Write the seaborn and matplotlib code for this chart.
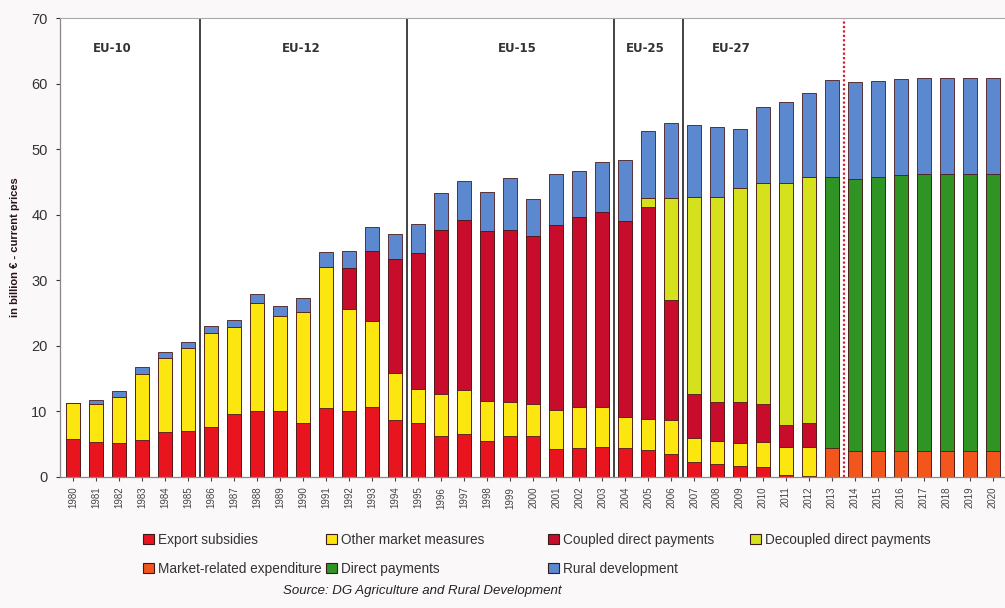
import matplotlib
matplotlib.use("Agg")
import matplotlib.pyplot as plt
import seaborn as sns
import numpy as np
import pandas as pd
from matplotlib.patches import Patch

years = ["1980", "1981", "1982", "1983", "1984", "1985", "1986", "1987", "1988", "1989",
         "1990", "1991", "1992", "1993", "1994", "1995", "1996", "1997", "1998", "1999",
         "2000", "2001", "2002", "2003", "2004", "2005", "2006", "2007", "2008", "2009",
         "2010", "2011", "2012", "2013", "2014", "2015", "2016", "2017", "2018", "2019", "2020"]

export_subsidies = [5.8, 5.3, 5.2, 5.7, 6.9, 7.0, 7.7, 9.6, 10.1, 10.0,
                    8.2, 10.5, 10.0, 10.6, 8.7, 8.3, 6.3, 6.6, 5.5, 6.3,
                    6.3, 4.2, 4.4, 4.5, 4.4, 4.1, 3.5, 2.3, 2.0, 1.7,
                    1.5, 0.3, 0.2, 0, 0, 0, 0, 0, 0, 0, 0]
other_market = [5.5, 5.8, 7.0, 10.0, 11.3, 12.6, 14.3, 13.2, 16.4, 14.5,
                17.0, 21.5, 15.6, 13.2, 7.1, 5.1, 6.3, 6.7, 6.1, 5.2,
                4.9, 6.0, 6.2, 6.2, 4.8, 4.8, 5.2, 3.6, 3.5, 3.5,
                3.8, 4.2, 4.4, 0, 0, 0, 0, 0, 0, 0, 0]
coupled_dp = [0, 0, 0, 0, 0, 0, 0, 0, 0, 0,
              0, 0, 6.2, 10.7, 17.5, 20.8, 25.1, 25.9, 25.9, 26.2,
              25.6, 28.2, 29.0, 29.7, 29.8, 32.3, 18.3, 6.7, 6.0, 6.3,
              5.9, 3.5, 3.6, 0, 0, 0, 0, 0, 0, 0, 0]
decoupled_dp = [0, 0, 0, 0, 0, 0, 0, 0, 0, 0,
                0, 0, 0, 0, 0, 0, 0, 0, 0, 0,
                0, 0, 0, 0, 0, 1.3, 15.6, 30.1, 31.2, 32.5,
                33.6, 36.9, 37.5, 0, 0, 0, 0, 0, 0, 0, 0]
market_related = [0, 0, 0, 0, 0, 0, 0, 0, 0, 0,
                  0, 0, 0, 0, 0, 0, 0, 0, 0, 0,
                  0, 0, 0, 0, 0, 0, 0, 0, 0, 0,
                  0, 0, 0, 4.4, 3.9, 3.9, 3.9, 3.9, 4.0, 4.0, 4.0]
direct_payments = [0, 0, 0, 0, 0, 0, 0, 0, 0, 0,
                   0, 0, 0, 0, 0, 0, 0, 0, 0, 0,
                   0, 0, 0, 0, 0, 0, 0, 0, 0, 0,
                   0, 0, 0, 41.3, 41.6, 41.9, 42.1, 42.3, 42.2, 42.2, 42.2]
rural_dev = [0, 0.7, 0.9, 1.1, 0.9, 1.0, 1.1, 1.1, 1.4, 1.6,
             2.1, 2.3, 2.7, 3.7, 3.8, 4.4, 5.6, 5.9, 6.0, 7.9,
             5.6, 7.8, 7.1, 7.7, 9.4, 10.3, 11.4, 11.0, 10.7, 9.0,
             11.6, 12.3, 12.8, 14.9, 14.8, 14.6, 14.7, 14.7, 14.7, 14.7, 14.7]

series_names = ["Export subsidies", "Other market measures", "Coupled direct payments",
                "Decoupled direct payments", "Market-related expenditure",
                "Direct payments", "Rural development"]
series_values = [export_subsidies, other_market, coupled_dp, decoupled_dp,
                 market_related, direct_payments, rural_dev]
series_colors = ["#e8141e", "#fbe60f", "#c70c2c", "#d5e11d", "#f2561d", "#2f9424", "#5b88cf"]

period_labels = ["EU-10", "EU-12", "EU-15", "EU-25", "EU-27"]
y_label = "in billion \u20ac - current prices"
source_text = "Source: DG Agriculture and Rural Development"

sns.set_theme(style="ticks")
plt.rcParams["font.family"] = ["Liberation Sans", "DejaVu Sans"]

fig = plt.figure(figsize=(10.05, 6.08), dpi=100)
bg = "#fbf8f9"
fig.patch.set_facecolor(bg)
ax = fig.add_axes([60 / 1005, 1 - 477 / 608, 1 - 60 / 1005, (477 - 18) / 608])
ax.set_facecolor("#ffffff")

df = pd.DataFrame({"year": years})
cum = np.zeros(len(years))
cums = []
for vals in series_values:
    cum = cum + np.array(vals, dtype=float)
    cums.append(cum.copy())

# draw tallest cumulative first, then overlay lower ones
for i in range(len(series_values) - 1, -1, -1):
    df["v"] = cums[i]
    sns.barplot(data=df, x="year", y="v", color=series_colors[i], saturation=1,
                width=0.6, edgecolor="#4a1a1a", linewidth=0.6, errorbar=None, ax=ax)

ax.set_xlim(-0.57, 40.52)
ax.set_ylim(0, 70)
ax.set_yticks(range(0, 71, 10))
ax.set_xlabel("")
ax.set_ylabel(y_label, fontsize=8, fontweight="bold", color="#2a1418", labelpad=8)
ax.tick_params(axis="y", labelsize=10.5, colors="#333333", length=3, width=0.8, pad=6)
ax.tick_params(axis="x", labelsize=7, colors="#444444", length=3, width=0.8, pad=4)
for lab in ax.get_xticklabels():
    lab.set_rotation(90)
for s in ["left", "bottom"]:
    ax.spines[s].set_color("#888888")
    ax.spines[s].set_linewidth(0.9)
ax.spines["top"].set_color("#aaaaaa")
ax.spines["top"].set_linewidth(0.8)
ax.spines["right"].set_visible(False)

# period separators
for xs in [5.5, 14.5, 23.5, 26.5]:
    ax.axvline(xs, color="#222222", lw=1.2)
ax.axvline(33.5, color="#d81e30", lw=1.6, ls=(0, (1, 1)))

label_x = [1.7, 9.9, 19.3, 24.9, 28.6]
for lx, t in zip(label_x, period_labels):
    ax.text(lx, 65.4, t, ha="center", va="center", fontsize=8.5, fontweight="bold",
            color="#333333", family=["DejaVu Sans"])

# legend in four columns
handles = [Patch(facecolor=c, edgecolor="#3a1a1a", linewidth=0.8) for c in series_colors]
cols = [[0, 4], [1, 5], [2, 6], [3]]
col_x = [143, 326, 548, 750]
for cx, idxs in zip(col_x, cols):
    leg = fig.legend([handles[k] for k in idxs], [series_names[k] for k in idxs],
                     loc="upper left", bbox_to_anchor=(cx / 1005, 1 - 533 / 608),
                     frameon=False, fontsize=9.8, handlelength=0.8, handleheight=0.8,
                     handletextpad=0.3, labelspacing=1.1, borderpad=0, borderaxespad=0)
    for t in leg.get_texts():
        t.set_color("#333333")

fig.text(422 / 1005, 1 - 591 / 608, source_text, ha="center", va="center",
         fontsize=9.5, style="italic", color="#222222")

fig.savefig("out.png", dpi=100, facecolor=bg)
